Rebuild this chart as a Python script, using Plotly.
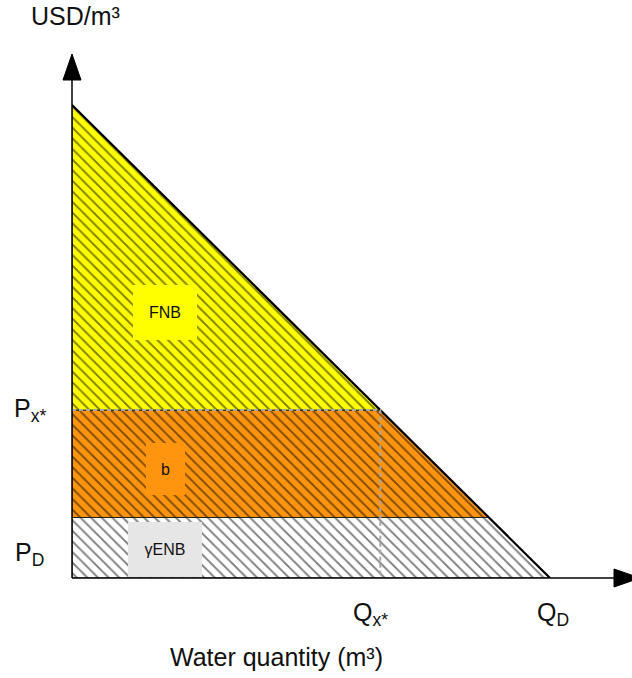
import plotly.graph_objects as go

# Linear demand curve P = P_MAX * (1 - Q / Q_D)
P_MAX = 10.0          # price intercept (USD/m3)
Q_D = 10.0            # quantity intercept (m3)
P_X = 3.55            # price P_x*
P_D = 1.28            # price P_D

# Quantities at the two price levels
Q_X = Q_D * (1 - P_X / P_MAX)
Q_PD = Q_D * (1 - P_D / P_MAX)

# Labels for the areas
AREA_LABELS = ["FNB", "b", "γENB"]

# Axis ranges (pixels per unit chosen so the plot fits the page)
PX_X, PX_Y = 47.8, 47.3
W, H = 632, 678
ML, MB = 72, 100
PLOT_W, PLOT_H = W - ML, H - MB
X_MAX = PLOT_W / PX_X
Y_MAX = PLOT_H / PX_Y

FONT = "Liberation Sans, Arial, sans-serif"
YELLOW = "#ffff00"
ORANGE = "#ff950e"

fig = go.Figure()


def area(xs, ys, bg):
    fig.add_trace(go.Scatter(
        x=xs, y=ys, mode="lines", fill="toself",
        fillcolor=bg,
        fillpattern=dict(shape="\\", fgcolor="#000000", bgcolor=bg,
                         size=7.5, solidity=0.25),
        line=dict(color="#222222", width=1),
        hoverinfo="skip", showlegend=False,
    ))


# White band below P_D
area([0, Q_D, Q_PD, 0, 0], [0, 0, P_D, P_D, 0], "#ffffff")
# Orange band between P_D and P_x*
area([0, Q_PD, Q_X, 0, 0], [P_D, P_D, P_X, P_X, P_D], ORANGE)
# Yellow triangle above P_x*
area([0, Q_X, 0, 0], [P_X, P_X, P_MAX, P_X], YELLOW)

# Demand curve
fig.add_trace(go.Scatter(
    x=[0, Q_D], y=[P_MAX, 0], mode="lines",
    line=dict(color="#000000", width=2.2),
    hoverinfo="skip", showlegend=False,
))

# Dashed guide lines at P_x* / Q_x*
fig.add_trace(go.Scatter(
    x=[0, Q_X, Q_X], y=[P_X, P_X, 0], mode="lines",
    line=dict(color="#a8a8a8", width=2, dash="4px,3px"),
    hoverinfo="skip", showlegend=False,
))


# Axes with arrowheads, in paper units so the heads are not clipped
def px_x(p):
    return p / PLOT_W


def px_y(p):
    return p / PLOT_H


head_len, head_half = 26, 9
y_tip = px_y(PLOT_H - 54)
y_base = y_tip - px_y(head_len)
x_base = px_x(614 - ML)
x_tip = x_base + px_x(head_len)
shapes = [
    dict(type="line", x0=0, y0=0, x1=0, y1=y_base,
         line=dict(color="#000000", width=1.5)),
    dict(type="line", x0=0, y0=0, x1=x_base, y1=0,
         line=dict(color="#000000", width=1.5)),
    dict(type="path",
         path=f"M {-px_x(head_half)} {y_base} L {px_x(head_half)} {y_base} L 0 {y_tip} Z",
         fillcolor="#000000", line=dict(color="#000000", width=1)),
    dict(type="path",
         path=f"M {x_base} {-px_y(head_half)} L {x_base} {px_y(head_half)} L {x_tip} 0 Z",
         fillcolor="#000000", line=dict(color="#000000", width=1)),
]
for s in shapes:
    s.update(xref="paper", yref="paper", layer="above")

lab_font = dict(family=FONT, size=25, color="#111111")
box_font = dict(family=FONT, size=16, color="#111111")
label_x = 1.95

annotations = [
    # area labels on filled boxes
    dict(x=label_x, y=5.61, text=AREA_LABELS[0], bgcolor=YELLOW,
         width=64, height=55, font=box_font),
    dict(x=label_x, y=2.30, text=AREA_LABELS[1], bgcolor=ORANGE,
         width=39, height=52, font=box_font),
    dict(x=label_x, y=0.60, text=AREA_LABELS[2], bgcolor="#e6e6e6",
         width=74, height=55, font=box_font),
    # price labels
    dict(x=0, y=P_X, text="P<sub>x*</sub>", xanchor="right", yanchor="middle",
         xshift=-26, yshift=0, font=lab_font),
    dict(x=0, y=P_D / 2, text="P<sub>D</sub>", xanchor="right", yanchor="middle",
         xshift=-28, yshift=-6, font=lab_font),
    # quantity labels
    dict(x=Q_X, y=0, text="Q<sub>x*</sub>", xanchor="center", yanchor="top",
         xshift=-10, yshift=-20, font=lab_font),
    dict(x=Q_D, y=0, text="Q<sub>D</sub>", xanchor="center", yanchor="top",
         xshift=3, yshift=-20, font=lab_font),
    # axis titles
    dict(xref="paper", yref="paper", x=px_x(276 - ML), y=px_y(PLOT_H - 657),
         text="Water quantity (m³)", xanchor="center", yanchor="middle",
         font=lab_font),
    dict(xref="paper", yref="paper", x=px_x(75 - ML), y=px_y(PLOT_H - 16),
         text="USD/m³", xanchor="center", yanchor="middle",
         font=lab_font),
]
for a in annotations:
    a.setdefault("xref", "x")
    a.setdefault("yref", "y")
    a.update(showarrow=False, borderpad=0, borderwidth=0)

fig.update_layout(
    width=W, height=H,
    margin=dict(l=ML, r=0, t=0, b=MB),
    paper_bgcolor="#ffffff", plot_bgcolor="#ffffff",
    xaxis=dict(range=[0, X_MAX], visible=False, fixedrange=True),
    yaxis=dict(range=[0, Y_MAX], visible=False, fixedrange=True),
    shapes=shapes, annotations=annotations,
    font=dict(family=FONT),
)

fig.write_html("out.html", config={"displayModeBar": False})
